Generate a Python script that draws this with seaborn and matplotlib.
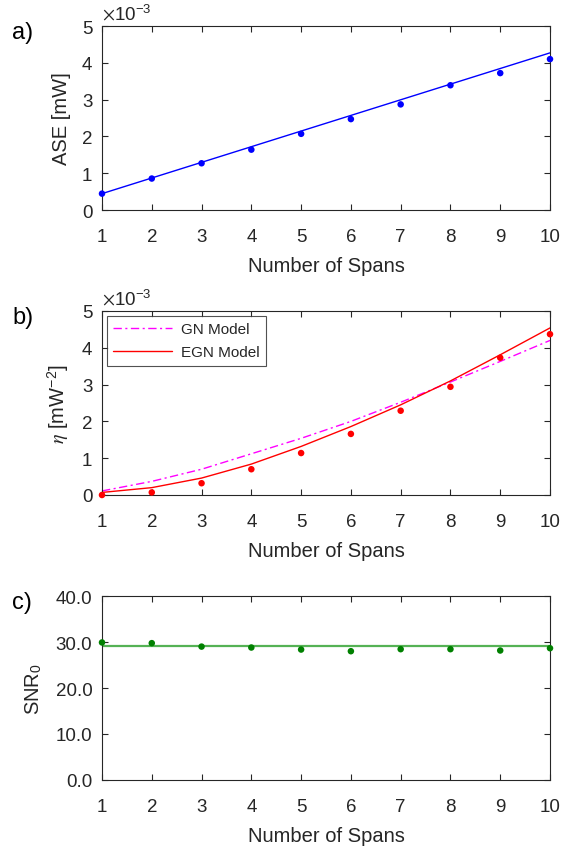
import matplotlib
matplotlib.use("Agg")
import matplotlib.pyplot as plt
import seaborn as sns
import numpy as np
import pandas as pd
from matplotlib.ticker import FormatStrFormatter

# ---------------- data ----------------
spans = [1, 2, 3, 4, 5, 6, 7, 8, 9, 10]

# a) ASE [mW] (x1e-3)
ase_meas = [0.445, 0.855, 1.27, 1.64, 2.07, 2.47, 2.87, 3.39, 3.72, 4.10]
ase_model = [0.445, 0.87, 1.295, 1.72, 2.145, 2.57, 2.995, 3.42, 3.845, 4.27]

# b) eta [mW^-2] (x1e-3)
eta_meas = [0.0, 0.07, 0.32, 0.70, 1.14, 1.66, 2.29, 2.94, 3.73, 4.37]
eta_gn = [0.11, 0.37, 0.70, 1.12, 1.54, 2.00, 2.52, 3.07, 3.63, 4.20]
eta_egn = [0.07, 0.20, 0.46, 0.84, 1.32, 1.86, 2.45, 3.10, 3.81, 4.54]

# c) SNR_0
snr_meas = [29.9, 29.75, 29.0, 28.8, 28.36, 28.0, 28.44, 28.44, 28.15, 28.65]
snr_model = [29.2] * 10

xticks = spans
yticks_ab = [0, 1, 2, 3, 4, 5]
yticks_c = [0, 10, 20, 30, 40]

# ---------------- style ----------------
sns.set_style("white")
plt.rcParams["font.family"] = ["Liberation Sans", "DejaVu Sans"]
plt.rcParams["mathtext.fontset"] = "stix"
GRAY = "#262626"

fig = plt.figure(figsize=(5.75, 8.54), dpi=100)
L, W, H = 102 / 575, 448 / 575, 184 / 854
axA = fig.add_axes([L, (854 - 211) / 854, W, H])
axB = fig.add_axes([L, (854 - 496) / 854, W, H])
axC = fig.add_axes([L, (854 - 781) / 854, W, H])


def style(ax):
    ax.set_xlim(1, 10)
    ax.set_xticks(xticks)
    for s in ax.spines.values():
        s.set_visible(True)
        s.set_color(GRAY)
        s.set_linewidth(0.8)
    ax.tick_params(direction="in", length=4.5, width=0.8, top=True, right=True,
                   bottom=True, left=True, colors=GRAY, labelsize=13.5)
    ax.tick_params(axis="x", pad=13)
    ax.tick_params(axis="y", pad=7)
    ax.set_xlabel("Number of Spans", fontsize=14.5, color=GRAY, labelpad=8)


# a)
sns.lineplot(x=spans, y=ase_model, ax=axA, color="#0000ff", lw=1.0)
sns.scatterplot(x=spans, y=ase_meas, ax=axA, color="#0000ff", s=22,
                edgecolor="none", zorder=3, clip_on=False)
style(axA)
axA.set_ylim(0, 5)
axA.set_yticks(yticks_ab)
axA.set_ylabel("ASE [mW]", fontsize=14.5, color=GRAY, labelpad=8)
axA.text(0.0, 1.015, r"$\times$10$^{\mathregular{-3}}$", transform=axA.transAxes,
         fontsize=13.5, color=GRAY, ha="left", va="bottom")

# b)
df_b = pd.DataFrame({"x": spans * 2,
                     "y": eta_gn + eta_egn,
                     "model": ["GN Model"] * 10 + ["EGN Model"] * 10})
sns.lineplot(data=df_b, x="x", y="y", hue="model", style="model", ax=axB,
             palette={"GN Model": "#ff00ff", "EGN Model": "#ff0000"},
             dashes={"GN Model": (6, 2.5, 1.5, 2.5), "EGN Model": ""},
             lw=1.0)
sns.scatterplot(x=spans, y=eta_meas, ax=axB, color="#ff0000", s=22,
                edgecolor="none", zorder=3, clip_on=False)
style(axB)
axB.set_ylim(0, 5)
axB.set_yticks(yticks_ab)
axB.set_ylabel(r"$\eta$ [mW$^{\mathregular{-2}}$]", fontsize=14.5, color=GRAY, labelpad=8)
axB.text(0.0, 1.015, r"$\times$10$^{\mathregular{-3}}$", transform=axB.transAxes,
         fontsize=13.5, color=GRAY, ha="left", va="bottom")
leg = axB.legend(loc="upper left", fontsize=11, frameon=True, fancybox=False,
                 edgecolor="#262626", handlelength=3.8, handletextpad=0.6,
                 borderpad=0.45, borderaxespad=0.3,
                 bbox_to_anchor=(0.0, 1.0), labelspacing=0.55)
leg.get_frame().set_linewidth(0.8)

# c)
sns.lineplot(x=spans, y=snr_model, ax=axC, color="#55b255", lw=1.6)
sns.scatterplot(x=spans, y=snr_meas, ax=axC, color="#008000", s=22,
                edgecolor="none", zorder=3, clip_on=False)
style(axC)
axC.set_ylim(0, 40)
axC.set_yticks(yticks_c)
axC.yaxis.set_major_formatter(FormatStrFormatter("%.1f"))
axC.set_ylabel(r"SNR$_{\mathregular{0}}$", fontsize=14.5, color=GRAY, labelpad=8)

# panel labels
for lab, ytop in [("a)", 33), ("b)", 318), ("c)", 603)]:
    fig.text(12 / 575, 1 - ytop / 854, lab, fontsize=17, color="black",
             ha="left", va="center")

fig.savefig("out.png", dpi=100, facecolor="white")
